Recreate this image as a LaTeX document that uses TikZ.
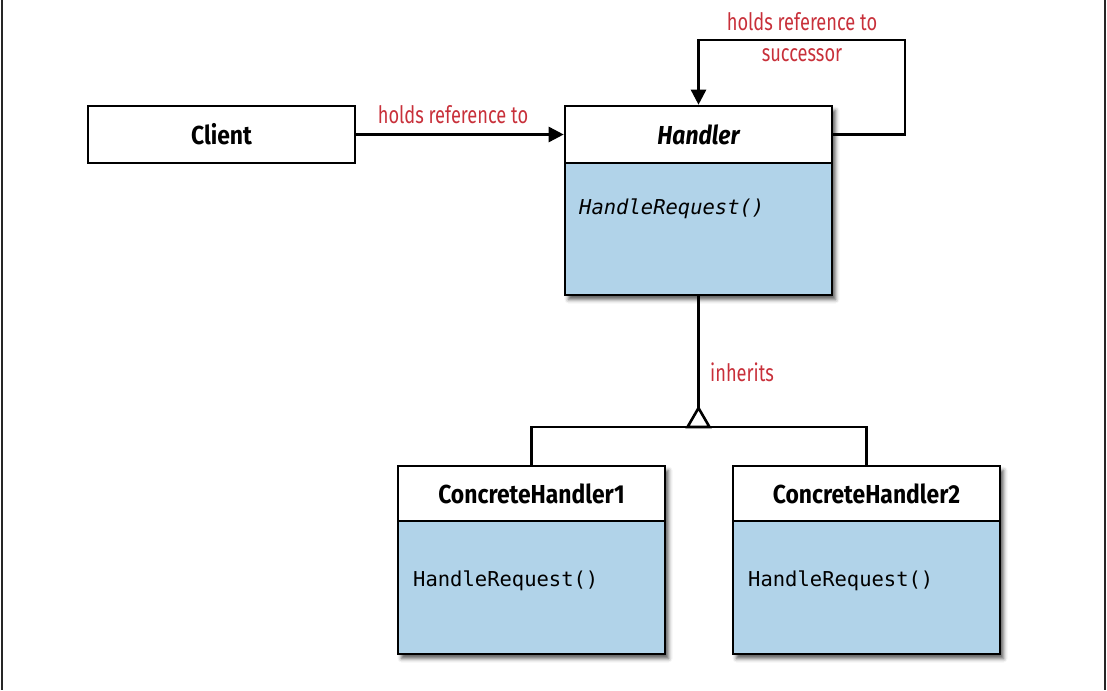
\documentclass[tikz,border=0pt]{standalone}
\usepackage{fontspec}
\setmainfont{Fira Sans}
\newfontfamily\headfont{Fira Sans}[FakeStretch=0.88]
\newfontfamily\labelfont{Fira Sans}[FakeStretch=0.76]
\newfontfamily\codefont{DejaVu Sans Mono}
\usetikzlibrary{arrows.meta,shadows.blur}
\definecolor{umlblue}{RGB}{177,211,233}
\definecolor{labelred}{RGB}{200,48,58}
\begin{document}
\begin{tikzpicture}[x=1pt,y=-1pt,
  box/.style={draw=black, line width=2.6pt, minimum width=267pt, inner sep=0pt},
  classbox/.style={box, fill=umlblue,
    blur shadow={shadow xshift=3.5pt, shadow yshift=-4.5pt, shadow blur radius=4pt, shadow opacity=65}},
  headbox/.style={box, fill=white, minimum height=57pt,
    font=\headfont\fontsize{26}{30}\selectfont\bfseries},
  op/.style={anchor=west, inner sep=0pt, font=\codefont\fontsize{20.5}{24}\selectfont},
  lbl/.style={text=labelred, inner sep=0pt, font=\labelfont\fontsize{24}{28}\selectfont},
  conn/.style={line width=2.6pt},
  ref/.style={conn, -{Triangle[length=15pt,width=15pt]}},
  frame/.style={line width=2pt, black!85},
]
\useasboundingbox (0,0) rectangle (1107,690);

% side rules of the page
\draw[frame] (1.5,0) -- (1.5,690);
\draw[frame] (1105,0) -- (1105,690);

% Client
\node[headbox] (client) at (221.5,134.5) {Client};

% Handler (abstract)
\node[classbox, minimum height=189pt] (handler) at (698.5,200.5) {};
\node[headbox, anchor=north, font=\headfont\fontsize{26}{30}\selectfont\bfseries\itshape]
  (handlerhead) at (handler.north) {Handler};
\node[op, font=\codefont\fontsize{20.5}{24}\selectfont\itshape] (handlerop) at (579,209) {HandleRequest()};

% Concrete handlers
\node[classbox, minimum height=188pt] (ch1) at (531.5,560) {};
\node[headbox, anchor=north, minimum height=55pt] (ch1head) at (ch1.north) {ConcreteHandler1};
\node[op] (ch1op) at (413,581) {HandleRequest()};

\node[classbox, minimum height=188pt] (ch2) at (866.5,560) {};
\node[headbox, anchor=north, minimum height=55pt] (ch2head) at (ch2.north) {ConcreteHandler2};
\node[op] (ch2op) at (748,581) {HandleRequest()};

% Client -> Handler
\draw[ref] (client.east) -- (handlerhead.west);
\node[lbl] (clientlbl) at (453,115) {holds reference to};

% successor self reference
\coordinate (loopcorner) at (905,40);
\draw[ref] (handlerhead.east) -| (loopcorner) -| (handlerhead.north);
\node[lbl] (succlbl1) at (802,22) {holds reference to};
\node[lbl] (succlbl2) at (802,55) {successor};

% inheritance: branches, stem and hollow triangle
\coordinate (apex) at (698.5,408);
\coordinate (bar) at (698.5,427);
\draw[conn] (ch1head.north) |- (bar) -| (ch2head.north);
\draw[conn] (handler.south) -- (apex);
\draw[conn, fill=white, line join=miter] (apex) -- ++(-11,19) -- ++(22,0) -- cycle;
\node[lbl, anchor=west] (inhlbl) at (710,372) {inherits};
\end{tikzpicture}
\end{document}
